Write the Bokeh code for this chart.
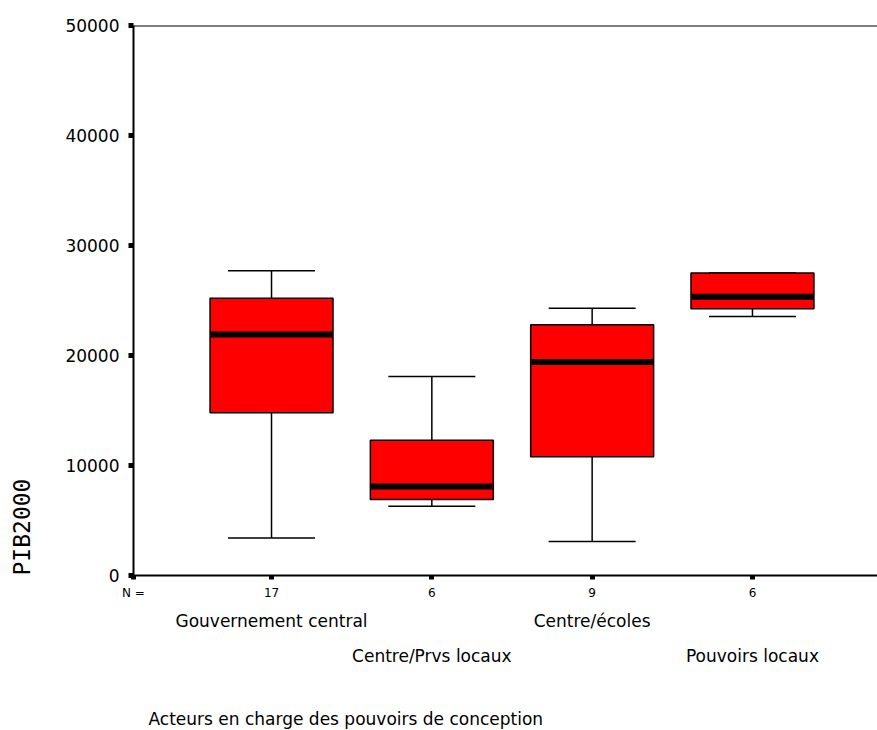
from bokeh.plotting import figure
from bokeh.models import Range1d, FixedTicker, LinearAxis, Span, Whisker, TeeHead, ColumnDataSource, Title
from bokeh.embed import file_html
from bokeh.resources import INLINE

# ---- data ----
groups = ["Gouvernement central", "Centre/Prvs locaux", "Centre/écoles", "Pouvoirs locaux"]
counts = ["17", "6", "9", "6"]
positions = [1, 2, 3, 4]
whisker_low = [3400, 6300, 3100, 23550]
q1 = [14800, 6900, 10800, 24250]
median = [21900, 8100, 19400, 25350]
q3 = [25200, 12300, 22800, 27500]
whisker_high = [27700, 18100, 24300, 27500]
y_ticks = [0, 10000, 20000, 30000, 40000, 50000]
y_label = "PIB2000"
x_title = "Acteurs en charge des pouvoirs de conception"
n_label = "N ="

FONT = "DejaVu Sans"
X0, X1 = 0.139, 4.780

src = ColumnDataSource(dict(x=positions, low=whisker_low, q1=q1, med=median, q3=q3, high=whisker_high))

p = figure(width=877, height=730, output_backend="svg", toolbar_location=None,
           x_range=Range1d(X0, X1), y_range=Range1d(0, 50000),
           min_border_left=133, min_border_right=0, min_border_top=25, min_border_bottom=154)
p.outline_line_color = None
p.grid.visible = False
p.background_fill_color = "white"
p.border_fill_color = "white"

# whiskers (under the boxes)
w = Whisker(source=src, base="x", lower="low", upper="high", dimension="height",
            line_color="black", line_width=1.5, level="underlay",
            lower_head=TeeHead(size=87, line_color="black", line_width=1.5),
            upper_head=TeeHead(size=87, line_color="black", line_width=1.5))
p.add_layout(w)

p.vbar(x="x", width=0.767, bottom="q1", top="q3", source=src,
       fill_color="#ff0000", line_color="black", line_width=1.5)
p.rect(x="x", y="med", width=0.757, height=6, height_units="screen", source=src,
       fill_color="black", line_color=None)

# top border
p.add_layout(Span(location=50000, dimension="width", line_color="black", line_width=1.8))

# y axis
ya = p.yaxis[0]
ya.ticker = FixedTicker(ticks=y_ticks)
ya.axis_line_width = 2
ya.major_tick_out = 5
ya.major_tick_in = 0
ya.major_tick_line_width = 5
ya.minor_tick_line_color = None
ya.major_label_standoff = 9
ya.major_label_text_font = FONT
ya.major_label_text_font_size = "17px"
ya.major_label_text_color = "black"

# x axis: counts (plus the "N =" caption at the left edge)
xa = p.xaxis[0]
xa.ticker = FixedTicker(ticks=[X0] + positions)
overrides = {pos: c for pos, c in zip(positions, counts)}
overrides[X0] = n_label
xa.major_label_overrides = overrides
xa.axis_line_width = 2
xa.major_tick_out = 4
xa.major_tick_in = 0
xa.major_tick_line_width = 5
xa.minor_tick_line_color = None
xa.major_label_standoff = 6
xa.major_label_text_font = FONT
xa.major_label_text_font_size = "12px"
xa.major_label_text_color = "black"

def label_axis(idx, standoff):
    ax = LinearAxis(ticker=FixedTicker(ticks=[positions[i] for i in idx]),
                    major_label_overrides={positions[i]: groups[i] for i in idx})
    ax.axis_line_color = None
    ax.major_tick_line_color = None
    ax.minor_tick_line_color = None
    ax.major_tick_out = 0
    ax.major_tick_in = 0
    ax.major_label_standoff = standoff
    ax.major_label_text_font = FONT
    ax.major_label_text_font_size = "17px"
    ax.major_label_text_color = "black"
    p.add_layout(ax, "below")
    return ax

label_axis([0, 2], 8)
label_axis([1, 3], 12)

# x axis title (two blank lines push it down)
p.add_layout(Title(text="\n\n" + x_title, align="left", offset=15, vertical_align="top", standoff=0,
                   text_font=FONT, text_font_size="17px", text_font_style="normal",
                   text_color="black"), "below")
# y axis title at the bottom of the left side
p.add_layout(Title(text=y_label + "\n", align="left", offset=0, vertical_align="top", standoff=0,
                   text_font="DejaVu Sans Mono", text_font_size="23px", text_font_style="normal",
                   text_color="black"), "left")

open("out.html", "w").write(file_html(p, INLINE))
